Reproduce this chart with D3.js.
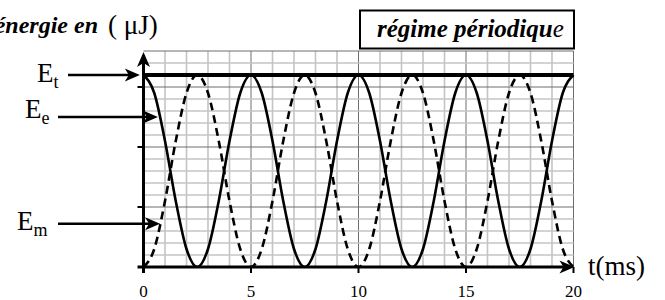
<!DOCTYPE html>
<html>
<head>
<meta charset="utf-8">
<script src="https://cdn.jsdelivr.net/npm/d3@7"></script>
</head>
<body style="margin:0">
<svg width="665" height="300"></svg>
<script>
// sample times (ms)
const times = [0, 0.5, 1, 1.5, 2, 2.5, 3, 3.5, 4, 4.5, 5, 5.5, 6, 6.5, 7, 7.5, 8, 8.5, 9, 9.5,
    10, 10.5, 11, 11.5, 12, 12.5, 13, 13.5, 14, 14.5, 15, 15.5, 16, 16.5, 17, 17.5, 18, 18.5, 19, 19.5, 20];
// electric energy Ee (solid) in grid units
const ee = [16, 14.5, 10.5, 5.5, 1.5, 0, 1.5, 5.5, 10.5, 14.5, 16, 14.5, 10.5, 5.5, 1.5, 0, 1.5, 5.5, 10.5, 14.5,
    16, 14.5, 10.5, 5.5, 1.5, 0, 1.5, 5.5, 10.5, 14.5, 16, 14.5, 10.5, 5.5, 1.5, 0, 1.5, 5.5, 10.5, 14.5, 16];
// magnetic energy Em (dashed)
const em = [0, 1.5, 5.5, 10.5, 14.5, 16, 14.5, 10.5, 5.5, 1.5, 0, 1.5, 5.5, 10.5, 14.5, 16, 14.5, 10.5, 5.5, 1.5,
    0, 1.5, 5.5, 10.5, 14.5, 16, 14.5, 10.5, 5.5, 1.5, 0, 1.5, 5.5, 10.5, 14.5, 16, 14.5, 10.5, 5.5, 1.5, 0];
// total energy Et
const et = 16;

const xTicks = [0, 5, 10, 15, 20];
const yTicks = [5, 10, 15];
// labels on the left: [main, subscript, value where arrow points, time where arrow stops]
const labels = [
    ['E', 't', 16, -0.17],
    ['E', 'e', 12.5, 0.67],
    ['E', 'm', 3.6, 0.77]
];

const serif = 'Liberation Serif';

const svg = d3.select('svg');
const x = d3.scaleLinear().domain([0, 20]).range([143.5, 573.5]);
const y = d3.scaleLinear().domain([0, 18]).range([267, 51]);

// grid
svg.selectAll('line.v').data(d3.range(1, 21))
    .enter().append('line')
    .attr('x1', d => x(d)).attr('x2', d => x(d))
    .attr('y1', y(0)).attr('y2', y(18))
    .attr('stroke', d => d % 5 === 0 ? '#6e6e6e' : '#c4c4c4')
    .attr('stroke-width', d => d % 5 === 0 ? 1 : 1.6);
svg.selectAll('line.h').data(d3.range(1, 19))
    .enter().append('line')
    .attr('x1', x(0)).attr('x2', x(20))
    .attr('y1', d => y(d)).attr('y2', d => y(d))
    .attr('stroke', d => d % 5 === 0 || d === 18 ? '#6e6e6e' : '#c4c4c4')
    .attr('stroke-width', d => d % 5 === 0 || d === 18 ? 1.2 : 1.6);

// ticks
svg.selectAll('line.xt').data(xTicks)
    .enter().append('line')
    .attr('x1', d => x(d)).attr('x2', d => x(d))
    .attr('y1', y(0)).attr('y2', y(0) + 6)
    .attr('stroke', '#000').attr('stroke-width', 2);
svg.selectAll('line.yt').data(yTicks)
    .enter().append('line')
    .attr('x1', x(0) - 6).attr('x2', x(0))
    .attr('y1', d => y(d)).attr('y2', d => y(d))
    .attr('stroke', '#000').attr('stroke-width', 2);
svg.selectAll('text.xl').data(xTicks)
    .enter().append('text')
    .attr('x', d => x(d)).attr('y', 297)
    .attr('text-anchor', 'middle')
    .attr('font-size', 17)
    .style('font-family', serif)
    .text(d => d);

// Et line
svg.append('line')
    .attr('x1', x(0)).attr('x2', x(20))
    .attr('y1', y(et)).attr('y2', y(et))
    .attr('stroke', '#000').attr('stroke-width', 4);

const line = series => d3.line()
    .x((d, i) => x(times[i]))
    .y(d => y(d))
    .curve(d3.curveMonotoneX)(series);

svg.append('path').attr('d', line(ee))
    .attr('fill', 'none').attr('stroke', '#000').attr('stroke-width', 2.6);
svg.append('path').attr('d', line(em))
    .attr('fill', 'none').attr('stroke', '#000').attr('stroke-width', 2.6)
    .attr('stroke-dasharray', '8,5');

// arrowhead (tip at tx,ty pointing right or up)
function head(tx, ty, dir) {
    const pts = dir === 'right'
        ? [[tx, ty], [tx - 15, ty - 6.5], [tx - 11, ty], [tx - 15, ty + 6.5]]
        : [[tx, ty], [tx - 6.5, ty + 15], [tx, ty + 11], [tx + 6.5, ty + 15]];
    svg.append('path').attr('d', 'M' + pts.join('L') + 'Z').attr('fill', '#000');
}

// axes
svg.append('line')
    .attr('x1', x(0)).attr('x2', x(0))
    .attr('y1', y(0) + 6).attr('y2', y(18) + 4)
    .attr('stroke', '#000').attr('stroke-width', 3);
head(x(0), y(18) + 1, 'up');
svg.append('line')
    .attr('x1', x(0) - 6).attr('x2', x(20) - 4)
    .attr('y1', y(0)).attr('y2', y(0))
    .attr('stroke', '#000').attr('stroke-width', 3);
head(x(20) + 1, y(0), 'right');

svg.append('text')
    .attr('x', 588).attr('y', 275)
    .attr('font-size', 27)
    .style('font-family', serif)
    .text('t(ms)');

// energy labels with arrows
labels.forEach((l, i) => {
    const yy = y(l[2]);
    const t = svg.append('text')
        .attr('x', [37, 25, 17][i]).attr('y', yy + [7, 1, 6][i])
        .attr('font-size', 27)
        .style('font-family', serif);
    t.append('tspan').text(l[0]);
    t.append('tspan').attr('font-size', 18).attr('dy', 6).text(l[1]);
    svg.append('line')
        .attr('x1', [68, 58, 58][i]).attr('x2', x(l[3]) - 8)
        .attr('y1', yy).attr('y2', yy)
        .attr('stroke', '#000').attr('stroke-width', 2.5);
    head(x(l[3]), yy, 'right');
});

// title (cut at the left edge as in the original)
svg.append('text')
    .attr('x', 98).attr('y', 33)
    .attr('text-anchor', 'end')
    .attr('font-size', 24)
    .attr('font-weight', 'bold').attr('font-style', 'italic')
    .style('font-family', serif)
    .text('énergie en');
svg.append('text')
    .attr('x', 108).attr('y', 34)
    .attr('font-size', 27)
    .style('font-family', serif)
    .text('(  μJ)');

// box
svg.append('rect')
    .attr('x', 360).attr('y', 10.5)
    .attr('width', 214).attr('height', 38)
    .attr('fill', '#fff').attr('stroke', '#000').attr('stroke-width', 2);
const box = svg.append('text')
    .attr('x', 377).attr('y', 37)
    .attr('font-size', 25)
    .style('font-family', serif);
box.append('tspan').attr('font-weight', 'bold').attr('font-style', 'italic').text('régime périodiqu');
box.append('tspan').attr('font-style', 'italic').text('e');
</script>
</body>
</html>
